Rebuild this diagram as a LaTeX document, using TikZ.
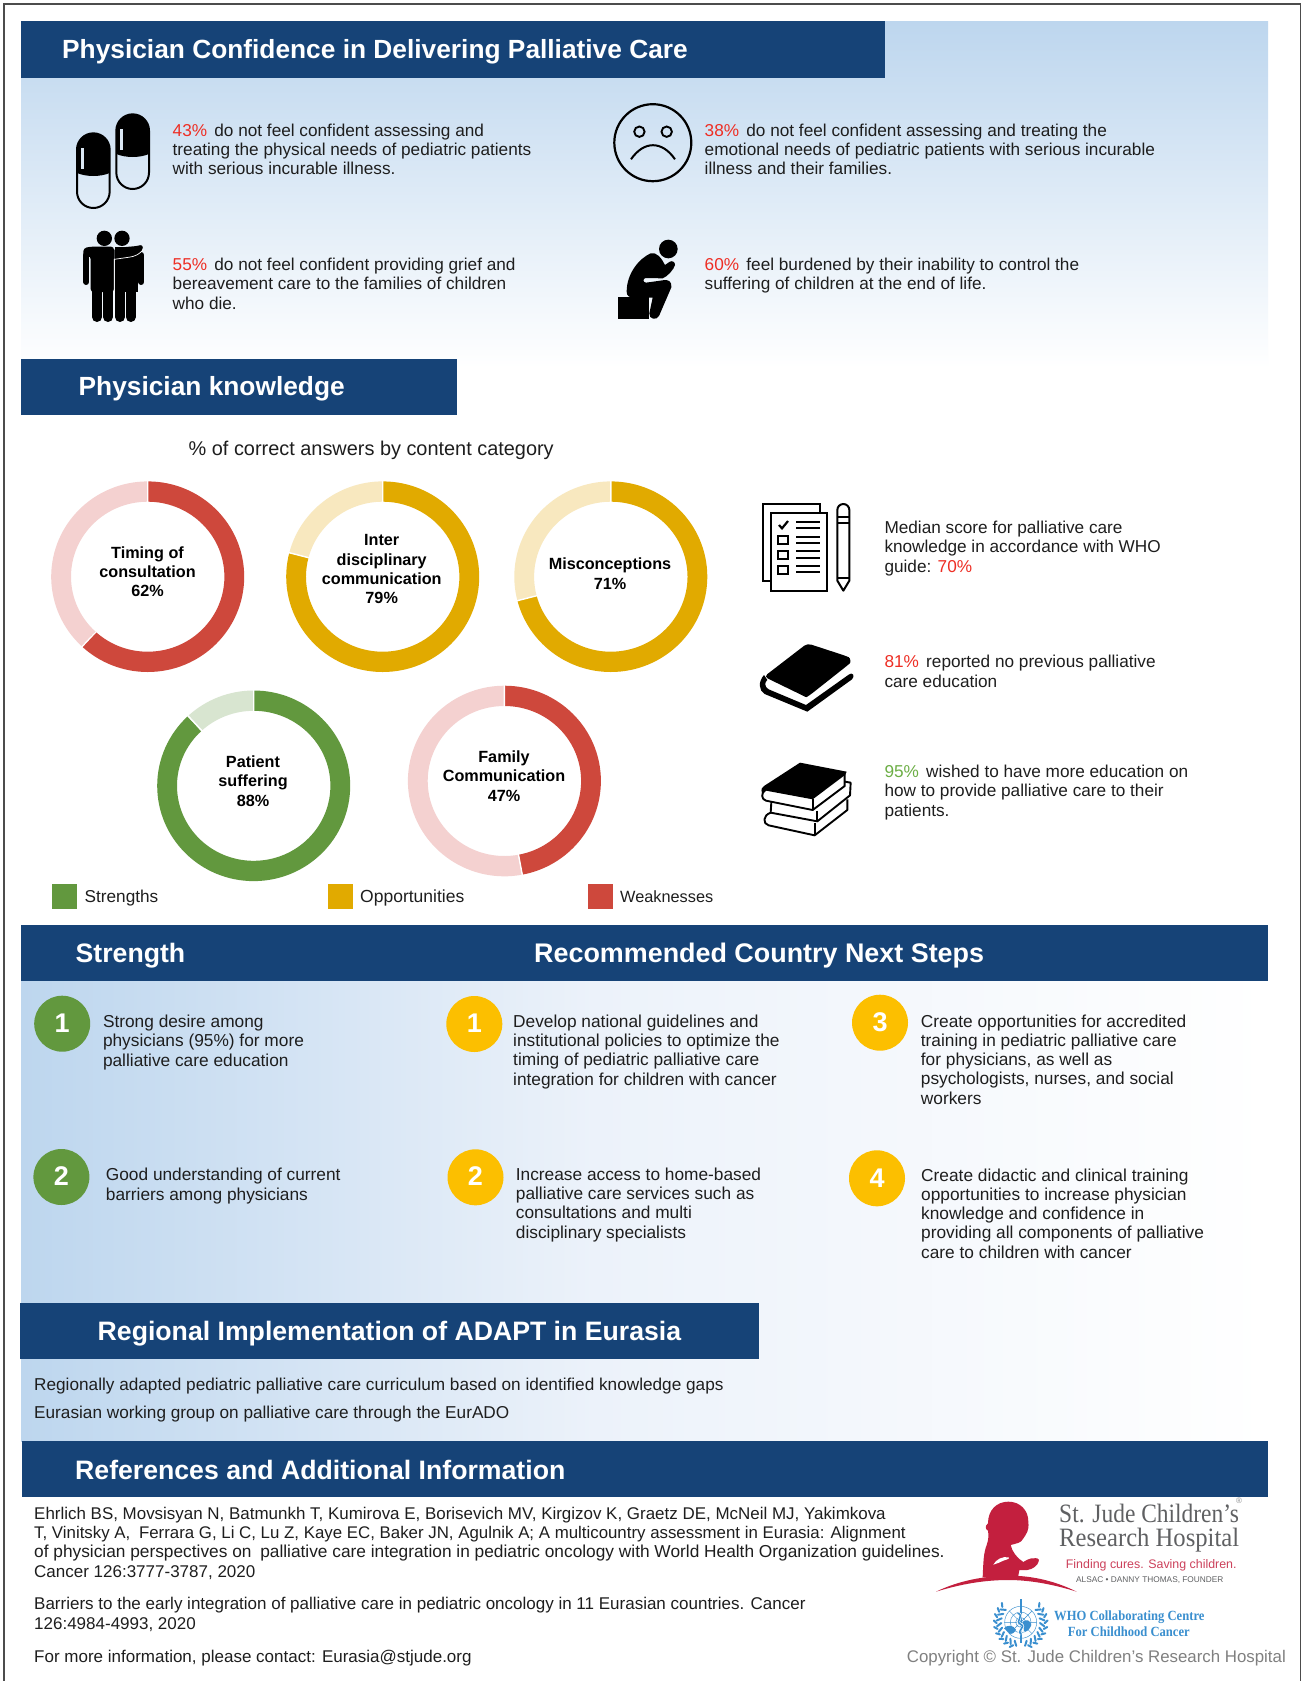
\documentclass[tikz,border=0pt]{standalone}
\usepackage{fontspec}
\setmainfont{Liberation Sans}
\newfontfamily\serifface{Liberation Serif}
\usetikzlibrary{calc}
\definecolor{navy}{HTML}{164377}
\definecolor{gradtop}{HTML}{BDD6EE}
\definecolor{gradmid}{HTML}{ECF2FA}
\definecolor{pctred}{HTML}{EE2E24}
\definecolor{pctgreen}{HTML}{6CAE45}
\definecolor{bodyink}{HTML}{1E1E1E}
\definecolor{redD}{HTML}{CE483C}
\definecolor{redL}{HTML}{F4D1D0}
\definecolor{yelD}{HTML}{E1AA00}
\definecolor{yelL}{HTML}{F8E8BF}
\definecolor{grnD}{HTML}{62983E}
\definecolor{grnL}{HTML}{D8E5D0}
\definecolor{stepY}{HTML}{FCBF00}
\definecolor{jude}{HTML}{C31F3E}
\definecolor{judeG}{HTML}{5F6062}
\definecolor{whoB}{HTML}{3A8FCF}
\definecolor{hilite}{HTML}{DCE8F4}
\pgfdeclarehorizontalshading{hgrad}{100bp}{color(0bp)=(gradtop);color(25bp)=(gradtop);color(48bp)=(gradmid);color(75bp)=(white);color(100bp)=(white)}
\newcommand{\donut}[5]{%
\begin{scope}[shift={(#1,#2)}]
\pgfmathsetmacro{\endang}{-90+3.6*#3}
\fill[#4] (-90:96.5 and 95.3) arc[start angle=-90,end angle=\endang,x radius=96.5,y radius=95.3] -- (\endang:76.7 and 75) arc[start angle=\endang,end angle=-90,x radius=76.7,y radius=75] -- cycle;
\fill[#5] (\endang:96.5 and 95.3) arc[start angle=\endang,end angle=270,x radius=96.5,y radius=95.3] -- (270:76.7 and 75) arc[start angle=270,end angle=\endang,x radius=76.7,y radius=75] -- cycle;
\draw[white,line width=1.4pt] (-90:74) -- (-90:98) (\endang:74) -- (\endang:98);
\end{scope}}
\newcommand{\pillshape}[2]{%
\draw[line width=2pt] (#1-49,#2) arc[start angle=180,end angle=360,radius=49] -- (#1+49,#2+126) arc[start angle=0,end angle=180,radius=49] -- cycle;
\fill (#1-49,#2) arc[start angle=180,end angle=360,radius=49] -- (#1+49,#2+70) .. controls (#1+20,#2+82) and (#1-20,#2+82) .. (#1-49,#2+70) -- cycle;
\fill[hilite] (#1-38,#2-6) rectangle (#1-28,#2+57);}
\newcommand{\fsz}[1]{\fontsize{#1}{19.3}\selectfont}
\tikzset{
 x=1pt,y=-1pt,
 hdr/.style={anchor=base west,inner sep=0pt,text=white,font=\bfseries\fontsize{26.3}{30}\selectfont},
 hdrw/.style={hdr,font=\bfseries\fontsize{26.65}{30}\selectfont},
 band/.style={fill=navy},
 body/.style={anchor=base west,inner sep=0pt,align=left,text=bodyink,font=\fontsize{17.2}{19.2}\selectfont},
 stepbody/.style={body,font=\fontsize{17.3}{19.2}\selectfont},
 refbody/.style={body,font=\fontsize{17}{19.3}\selectfont},
 ctr/.style={anchor=base,inner sep=0pt,align=center,text=black,font=\bfseries\fontsize{16.2}{19.2}\selectfont},
 stepnum/.style={anchor=base,inner sep=0pt,text=white,font=\bfseries\fontsize{27}{30}\selectfont},
 legbox/.style={minimum width=25pt,minimum height=25pt,inner sep=0pt,anchor=north west},
 ic/.style={line width=2pt,line join=miter},
}
\begin{document}
\begin{tikzpicture}
\useasboundingbox (0,0) rectangle (1302,1681);
\fill[white] (0,0) rectangle (1302,1681);
% page frame
\draw[black!70,line width=1.5pt] (4,1681) -- (4,4) -- (1300.5,4) -- (1300.5,1681);
% panels
\shade[top color=gradtop,bottom color=white] (21,21) rectangle (1268,368);
\shade[shading=hgrad] (21,981) rectangle (1268,1441);
% bands
\fill[band] (21,21) rectangle (885,78);
\fill[band] (21,359) rectangle (457,415);
\fill[band] (21,925) rectangle (1268,981);
\fill[band] (20,1303) rectangle (759,1359);
\fill[band] (22,1441) rectangle (1268,1497);
\node[hdr] (h1) at (62,58.5) {Physician Confidence in Delivering Palliative Care};
\node[hdr] (h2) at (78.5,395) {Physician knowledge};
\node[hdrw] (h3) at (75.5,962) {Strength};
\node[hdr,font=\bfseries\fontsize{26.9}{30}\selectfont] (h4) at (534,962) {Recommended Country Next Steps};
\node[hdrw] (h5) at (97.5,1340) {Regional Implementation of ADAPT in Eurasia};
\node[hdrw] (h6) at (75,1479) {References and Additional Information};
% top texts
\node[body] (c1) at (172.5,174.5) {\textcolor{pctred}{43\%}\hspace{2.5pt} do not feel confident assessing and\\treating the physical needs of pediatric patients\\with serious incurable illness.};
\node[body] (c2) at (704.5,174.5) {\textcolor{pctred}{38\%}\hspace{2.5pt} do not feel confident assessing and treating the\\emotional needs of pediatric patients with serious incurable\\illness and their families.};
\node[body] (c3) at (172.5,309) {\textcolor{pctred}{55\%}\hspace{2.5pt} do not feel confident providing grief and\\bereavement care to the families of children\\who die.};
\node[body] (c4) at (704.5,289.5) {\textcolor{pctred}{60\%}\hspace{2.5pt} feel burdened by their inability to control the\\suffering of children at the end of life.};
% pills + people
\begin{scope}[shift={(60,100)},scale=1/3]
\pillshape{218}{92}
\pillshape{100}{149}
\fill (133,415) circle[radius=23];
\fill (186,415) circle[radius=23];
\fill[rounded corners=3pt] (70,470) -- (70,445) -- (90,440) -- (162,440) -- (162,576) -- (92,576) -- (92,468) -- cycle;
\draw[line width=6pt,line cap=round] (79,465) -- (79,546);
\fill[white!60!hilite] (88,470) rectangle (91,552);
\fill (166,440) rectangle (235,576);
\draw[line width=6pt,line cap=round] (244,465) -- (244,546);
\fill[rounded corners=2pt] (163,444) -- (232,438) -- (246,434) -- (250,448) -- (226,472) -- (163,480) -- cycle;
\draw[white,line width=.7pt] (163,576) -- (163,478) -- (205,472) .. controls (225,470) and (240,462) .. (250,448);
\foreach \lx in {111,144,180,212}{\draw[line width=10pt,line cap=round] (\lx,570) -- (\lx,651);}
\end{scope}
% sad face
\draw[line width=2.2pt] (652.8,142.7) circle[radius=38.5];
\draw[line width=1.9pt] (639.4,131.7) circle[radius=5.2] (666.7,131.7) circle[radius=5.2];
\draw[line width=2pt] (631,159.3) .. controls (644,140.5) and (662,140.5) .. (675,159.3);
% thinker
\begin{scope}[shift={(610,230)},scale=1/3]
\fill (175,57) circle[radius=28];
\fill (24,200) rectangle (117,268);
\fill (122,70) .. controls (88,85) and (50,130) .. (50,185) .. controls (50,198) and (58,203) .. (72,203) -- (128,203) -- (118,250) .. controls (116,268) and (140,272) .. (147,258) -- (184,172) .. controls (186,155) and (176,150) .. (165,150) -- (108,158) .. controls (98,156) and (98,148) .. (106,144) -- (158,145) .. controls (172,140) and (192,118) .. (195,105) .. controls (196,96) and (186,90) .. (178,96) -- (165,105) .. controls (155,85) and (140,65) .. (122,70) -- cycle;
\end{scope}
% chart title and donuts
\node[anchor=base west,inner sep=0pt,text=bodyink,font=\fontsize{19.9}{22}\selectfont] (ct) at (188.5,455) {\% of correct answers by content category};
\donut{147.7}{576.7}{62}{redD}{redL}
\donut{382.7}{576.7}{79}{yelD}{yelL}
\donut{610.8}{576.7}{71}{yelD}{yelL}
\donut{253.7}{785.8}{88}{grnD}{grnL}
\donut{504.4}{781}{47}{redD}{redL}
\node[ctr] (d1) at (147.5,596.5) {Timing of\\consultation\\62\%};
\node[ctr] (d2) at (381.7,603.5) {Inter\\disciplinary\\communication\\79\%};
\node[ctr] (d3) at (610,589) {Misconceptions\\71\%};
\node[ctr] (d4) at (253,806) {Patient\\suffering\\88\%};
\node[ctr] (d5) at (504,801) {Family\\Communication\\47\%};
% legend
\node[legbox,fill=grnD] (l1) at (52,884) {};
\node[legbox,fill=yelD] (l2) at (328,884) {};
\node[legbox,fill=redD] (l3) at (588,884) {};
\node[body] (lt1) at (84.5,902) {Strengths};
\node[body,font=\fontsize{17.5}{19}\selectfont] (lt2) at (360,902) {Opportunities};
\node[body,font=\fontsize{16.3}{19}\selectfont] (lt3) at (620,902) {Weaknesses};
% right column texts
\node[body] (r1) at (884.3,572) {Median score for palliative care\\knowledge in accordance with WHO\\guide: \textcolor{pctred}{70\%}};
\node[body] (r2) at (884.3,687) {\textcolor{pctred}{81\%}\hspace{2.5pt} reported no previous palliative\\care education};
\node[body] (r3) at (884.3,816) {\textcolor{pctgreen}{95\%}\hspace{2.5pt} wished to have more education on\\how to provide palliative care to their\\patients.};
% right column icons
\begin{scope}[shift={(730,480)},scale=1/3]
\draw[ic] (100,303) rectangle (270,72);
\draw[ic,fill=white] (122,333) rectangle (292,100);
\draw[line width=2.2pt] (147,135) -- (156,145) -- (174,123);
\foreach \by in {165,210,256}{\draw[line width=2pt] (145,\by+3) rectangle (173,\by+27);}
\foreach \ly in {127,145,172,188,214,235,258,276}{\draw[line width=2pt] (198,\ly) -- (270,\ly);}
\draw[ic,line join=round] (322,295) -- (322,90) arc[start angle=180,end angle=360,radius=18] -- (358,295) -- (358,302) -- (340,332) -- (322,302) -- cycle;
\draw[ic] (322,112) -- (358,112) (322,128) -- (358,128) (322,295) -- (358,295);
% single book
\fill[rounded corners=4pt] (232,490) -- (345,527) .. controls (362,534) and (362,548) .. (350,558) -- (240,645) .. controls (232,650) and (225,650) .. (215,645) -- (102,590) -- cycle;
\fill (102,585) .. controls (84,605) and (86,632) .. (104,642) -- (232,695) -- (366,598) .. controls (376,588) and (368,574) .. (356,584) -- (228,675) -- (116,628) .. controls (102,620) and (104,606) .. (112,600) -- cycle;
% stack of books
\fill (210,848) -- (350,875) -- (345,885) -- (248,958) -- (108,932) -- (96,938) .. controls (92,928) and (96,922) .. (102,918) -- cycle;
\draw[line width=1.9pt,line join=round] (106,930) .. controls (92,940) and (94,958) .. (108,962) -- (248,990) -- (344,918) -- (344,880);
\draw[line width=1.9pt] (248,957) -- (248,990);
\draw[line width=1.9pt,line join=round] (124,966) -- (122,998) -- (262,1024) -- (360,946) -- (362,908) -- (345,905);
\draw[line width=1.9pt] (262,992) -- (262,1024);
\draw[line width=1.9pt,line join=round] (122,998) .. controls (98,1006) and (98,1032) .. (116,1036) -- (254,1066) -- (352,990) -- (352,958);
\draw[line width=1.9pt] (254,1030) -- (254,1066);
\end{scope}
% steps
\fill[grnD] (62.2,1023.7) circle[radius=28];
\fill[grnD] (61.4,1177) circle[radius=28];
\fill[stepY] (474.3,1024) circle[radius=28];
\fill[stepY] (475.5,1177.3) circle[radius=28];
\fill[stepY] (880,1022.7) circle[radius=28];
\fill[stepY] (877,1178.3) circle[radius=28];
\node[stepnum] (n1) at (62.2,1032) {1};
\node[stepnum] (n2) at (61.4,1185.5) {2};
\node[stepnum] (n3) at (474.3,1032) {1};
\node[stepnum] (n4) at (475.5,1185.5) {2};
\node[stepnum] (n5) at (880,1031) {3};
\node[stepnum] (n6) at (877,1187) {4};
\node[stepbody] (s1) at (102.8,1066) {Strong desire among\\physicians (95\%) for more\\palliative care education};
\node[stepbody] (s2) at (105.7,1200) {Good understanding of current\\barriers among physicians};
\node[stepbody] (s3) at (513,1085) {Develop national guidelines and\\institutional policies to optimize the\\timing of pediatric palliative care\\integration for children with cancer};
\node[stepbody] (s4) at (515.7,1238) {Increase access to home-based\\palliative care services such as\\consultations and multi\\disciplinary specialists};
\node[stepbody] (s5) at (920.7,1104) {Create opportunities for accredited\\training in pediatric palliative care\\for physicians, as well as\\psychologists, nurses, and social\\workers};
\node[stepbody] (s6) at (921,1258) {Create didactic and clinical training\\opportunities to increase physician\\knowledge and confidence in\\providing all components of palliative\\care to children with cancer};
% regional text
\node[body] (g1) at (34,1390) {Regionally adapted pediatric palliative care curriculum based on identified knowledge gaps};
\node[body] (g2) at (34,1418) {Eurasian working group on palliative care through the EurADO};
% references
\node[refbody] (f1) at (34,1577) {\fsz{16.95}Ehrlich BS, Movsisyan N, Batmunkh T, Kumirova E, Borisevich MV, Kirgizov K, Graetz DE, McNeil MJ, Yakimkova\\\fsz{16.85}T, Vinitsky A,\hspace{4pt} Ferrara G, Li C, Lu Z, Kaye EC, Baker JN, Agulnik A; A multicountry assessment in Eurasia: Alignment\\\fsz{17.3}of physician perspectives on\hspace{4pt} palliative care integration in pediatric oncology with World Health Organization guidelines.\\\fsz{17}Cancer 126:3777-3787, 2020};
\node[refbody] (f2) at (34,1629) {Barriers to the early integration of palliative care in pediatric oncology in 11 Eurasian countries. Cancer\\126:4984-4993, 2020};
\node[refbody] (f3) at (34,1662) {For more information, please contact: Eurasia@stjude.org};
% St. Jude logo
\begin{scope}[shift={(920,1490)},scale=1/3]
\fill[jude] (265,35) .. controls (300,35) and (325,60) .. (325,95) .. controls (326,108) and (326,118) .. (322,125) .. controls (318,135) and (312,142) .. (308,148) .. controls (304,158) and (290,160) .. (272,165) .. controls (276,185) and (292,205) .. (310,216) .. controls (320,210) and (330,204) .. (340,205) .. controls (350,203) and (360,206) .. (356,214) .. controls (354,226) and (338,238) .. (322,240) .. controls (310,240) and (302,240) .. (298,240) -- (294,262) -- (188,262) .. controls (190,220) and (190,190) .. (200,165) .. controls (206,148) and (206,135) .. (204,122) .. controls (196,118) and (194,108) .. (204,100) .. controls (204,60) and (230,35) .. (265,35) -- cycle;
\fill[white] (220,224) .. controls (228,208) and (248,198) .. (266,202) .. controls (270,206) and (262,208) .. (250,212) .. controls (240,216) and (230,222) .. (220,224) -- cycle;
\fill[jude] (48,305) .. controls (120,270) and (200,257) .. (270,257) .. controls (340,257) and (410,275) .. (470,305) .. controls (400,283) and (330,270) .. (265,270) .. controls (190,270) and (120,283) .. (48,305) -- cycle;
% WHO emblem
\begin{scope}[shift={(302,397)}]
\draw[whoB,line width=.45pt] (0,0) circle[radius=48] (0,0) circle[radius=31] (0,0) circle[radius=15];
\draw[whoB,line width=.45pt] (-48,0) -- (48,0) (-34,-34) -- (34,34) (-34,34) -- (34,-34);
\fill[whoB] (-50,18) .. controls (-40,6) and (-22,8) .. (-14,22) .. controls (-18,32) and (-28,36) .. (-32,34) -- cycle;
\fill[whoB] (6,-2) .. controls (20,-12) and (30,-4) .. (32,8) .. controls (26,22) and (18,30) .. (10,26) -- cycle;
\foreach \a in {108,122,...,220}{
 \draw[whoB,line width=2pt,line cap=round] (\a:58) -- ++(\a-35:16);
 \draw[whoB,line width=2pt,line cap=round] (\a:72) -- ++(\a+45:12);
}
\foreach \a in {72,58,...,-40}{
 \draw[whoB,line width=2pt,line cap=round] (\a:58) -- ++(\a+35:16);
 \draw[whoB,line width=2pt,line cap=round] (\a:72) -- ++(\a-45:12);
}
\draw[whoB,line width=2pt] (0,-70) -- (0,62);
\draw[white,line width=3pt] (-9,-28) .. controls (14,-18) and (-20,-4) .. (0,6) .. controls (18,14) and (-14,24) .. (2,36);
\draw[whoB,line width=1.6pt] (-9,-28) .. controls (14,-18) and (-20,-4) .. (0,6) .. controls (18,14) and (-14,24) .. (2,36);
\end{scope}
\end{scope}
\node[anchor=base west,inner sep=0pt,text=judeG,font=\serifface\fontsize{26.5}{30}\selectfont] (j1) at (1059,1522.7) {\scalebox{.885}[1]{St. Jude Children’s}};
\node[anchor=base west,inner sep=0pt,text=judeG,font=\serifface\fontsize{26.5}{30}\selectfont] (j2) at (1059,1546) {\scalebox{.93}[1]{Research Hospital}};
\node[anchor=center,inner sep=0pt,text=judeG!70,font=\fontsize{8}{9}\selectfont] (j3) at (1239,1501) {®};
\node[anchor=base west,inner sep=0pt,text=jude!85,font=\fontsize{12.4}{15}\selectfont] (j4) at (1065.7,1568.7) {Finding cures. Saving children.};
\node[anchor=base west,inner sep=0pt,text=judeG,font=\fontsize{8.3}{10}\selectfont] (j5) at (1076,1582.7) {ALSAC • DANNY THOMAS, FOUNDER};
\node[anchor=base west,inner sep=0pt,text=whoB,font=\serifface\bfseries\fontsize{14}{16}\selectfont] (w1) at (1054,1620) {\scalebox{.9}[1]{WHO Collaborating Centre}};
\node[anchor=base west,inner sep=0pt,text=whoB,font=\serifface\bfseries\fontsize{14}{16}\selectfont] (w2) at (1067.7,1636.7) {\scalebox{.9}[1]{For Childhood Cancer}};
\node[anchor=base west,inner sep=0pt,text=black!50,font=\fontsize{16.85}{19}\selectfont] (cp) at (906.7,1662.7) {Copyright © St. Jude Children’s Research Hospital};
\end{tikzpicture}
\end{document}
